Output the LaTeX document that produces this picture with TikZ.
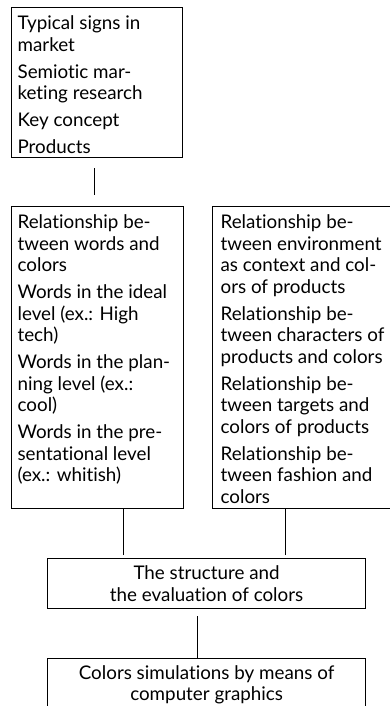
\documentclass[tikz,border=0pt]{standalone}
\usepackage{fontspec}
\setmainfont{Lato}[Ligatures=NoCommon]
\usepackage{tikz}
\usetikzlibrary{positioning}
\tikzstyle{cell}=[draw, line width=1.2pt, anchor=north west, inner xsep=6pt, inner ysep=0pt]
\tikzstyle{mid}=[draw, line width=1.2pt, anchor=north west, inner sep=0pt, align=center, font=\fontsize{18.8}{21.5}\selectfont]
\tikzstyle{link}=[line width=1.3pt]
\newcommand{\celltext}[3]{\parbox[t][#2][t]{#1}{\fontsize{18.8}{21.5}\selectfont
  \setlength{\parskip}{5.5pt}\rule{0pt}{22pt}#3}}

\begin{document}
\begin{tikzpicture}[x=1pt, y=-1pt]
\useasboundingbox[fill=white] (0,0) rectangle (389,706);
\node[cell] (signs) at (11,7) {\celltext{159pt}{150pt}{%
Typical signs in\\ market\par
Semiotic mar-\\ keting research\par
Key concept\par
Products}};
\node[cell] (words) at (11,206) {\celltext{160pt}{302pt}{%
Relationship be-\\ tween words and\\ colors\par
Words in the ideal\\ level (ex.: High\\ tech)\par
Words in the plan-\\ ning level (ex.:\\ cool)\par
Words in the pre-\\ sentational level\\ (ex.: whitish)}};
\node[cell, inner xsep=8pt] (context) at (212,206) {\celltext{164pt}{302pt}{%
Relationship be-\\ tween environment\\ as context and col-\\ ors of products\par
Relationship be-\\ tween characters of\\ products and colors\par
Relationship be-\\ tween targets and\\ colors of products\par
Relationship be-\\ tween fashion and\\ colors}};
\node[mid, minimum width=318pt, minimum height=50pt] (structure) at (47,558)
  {The structure and\\ the evaluation of colors};
\node[mid, minimum width=318pt, minimum height=52pt] (sim) at (47,658)
  {Colors simulations by means of\\ computer graphics};
\coordinate (a) at ([xshift=-2.5pt]signs.south);
\coordinate (l) at ([xshift=-83pt]structure.north);
\coordinate (r) at ([xshift=79pt]structure.north);
\coordinate (b) at ([xshift=-9pt]structure.south);
\draw[link, shorten <=10pt, shorten >=11pt] (a) -- (a |- words.north);
\draw[link, shorten <=3pt] (l) -- (l |- words.south);
\draw[link, shorten <=3pt] (r) -- (r |- context.south);
\draw[link, shorten <=7pt] (b) -- (b |- sim.north);
\end{tikzpicture}
\end{document}
